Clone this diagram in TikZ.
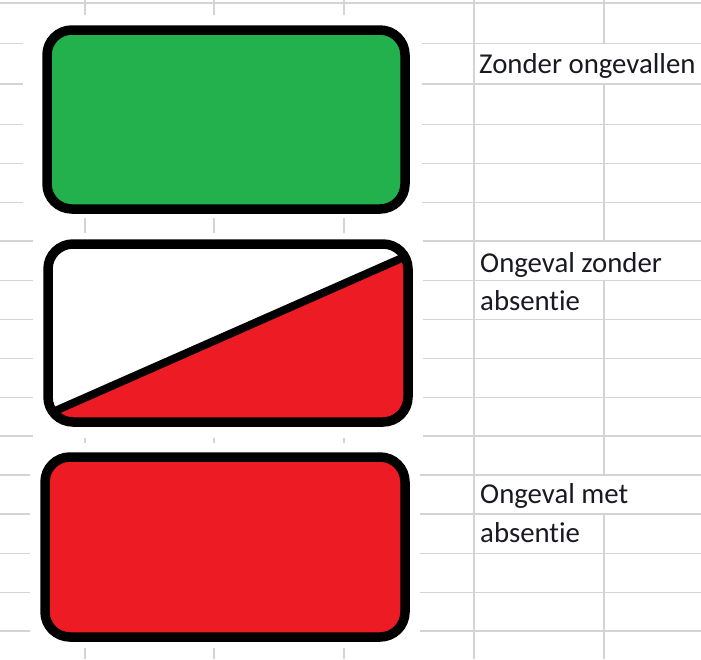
\documentclass[tikz,border=0pt]{standalone}
\usepackage{fontspec}
\setmainfont{Carlito}[Ligatures=CommonOff]
\definecolor{gridc}{RGB}{212,212,212}
\definecolor{pgreen}{RGB}{34,177,76}
\definecolor{pred}{RGB}{237,28,36}
\definecolor{txt}{RGB}{25,25,35}
\begin{document}
\begin{tikzpicture}[x=1pt,y=-1pt,
  box/.style={draw=black,line width=9.5pt,rounded corners=25pt},
  lbl/.style={anchor=base west,inner sep=0pt,font=\fontsize{28.8}{30}\selectfont,text=txt},
  gl/.style={draw=gridc,line width=1.2pt}]
\useasboundingbox (0,0) rectangle (701,659);
\fill[white] (0,0) rectangle (701,659);
% spreadsheet grid
\foreach \y in {3,43.3,84,124.3,163.3,202.3,241,280.7,319.3,358.3,397.3,436,475,514,553.3,592.3,631}
  \draw[gl] (0,\y) -- (701,\y);
\foreach \x in {85,214,344,474}
  \draw[gl] (\x,0) -- (\x,659);
\draw[gl] (604,0) -- (604,43.3) (604,84) -- (604,241) (604,280.7) -- (604,475) (604,514) -- (604,659);
% white picture areas
\fill[white] (23,15) rectangle (422,218);
\fill[white] (33,233) rectangle (423,438);
\fill[white] (30,443) rectangle (420,648);
% box 1
\draw[box,fill=pgreen] (47,30) rectangle (405,209);
% box 2
\begin{scope}
  \clip[rounded corners=25pt] (48,244) rectangle (408,422);
  \fill[white] (48,244) rectangle (408,422);
  \fill[pred] (55,411) -- (402,258) -- (420,258) -- (420,430) -- (40,430) -- cycle;
  \draw[line width=8pt] (55,411) -- (402,258);
\end{scope}
\draw[box] (48,244) rectangle (408,422);
% box 3
\draw[box,fill=pred] (45,457) rectangle (405,637);
% labels
\node[lbl] (l1) at (479,73) {Zonder ongevallen};
\node[lbl] (l2a) at (480,272) {Ongeval zonder};
\node[lbl] (l2b) at (480,310.5) {absentie};
\node[lbl] (l3a) at (480,503) {Ongeval met};
\node[lbl] (l3b) at (480,542) {absentie};
\end{tikzpicture}
\end{document}
